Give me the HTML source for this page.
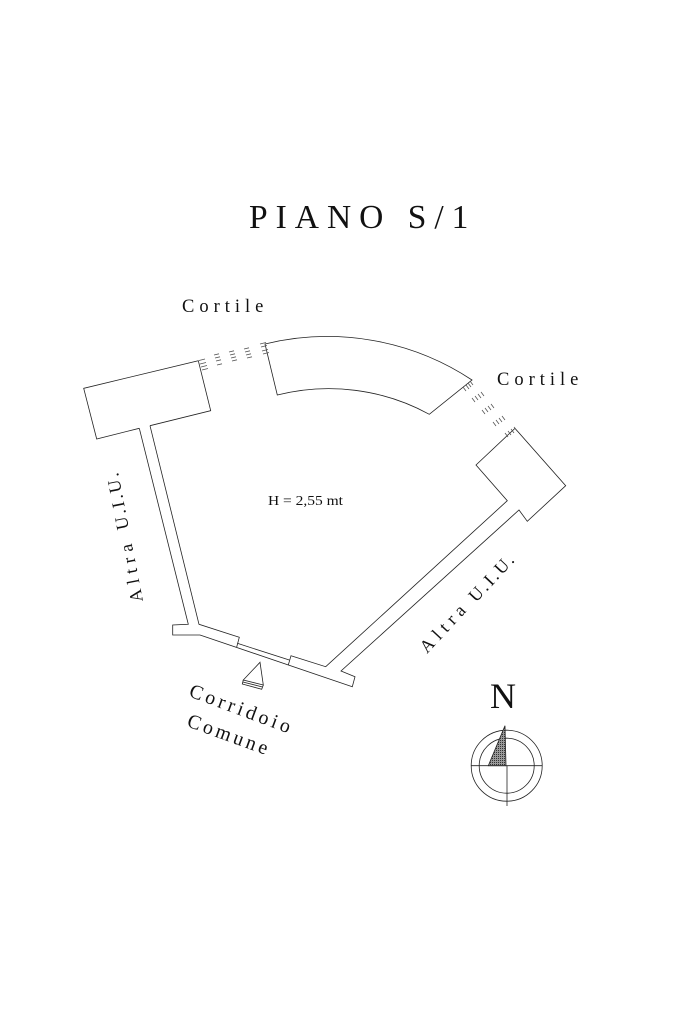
<!DOCTYPE html>
<html>
<head>
<meta charset="utf-8">
<style>
html,body{margin:0;padding:0;background:#fff;width:683px;height:1025px;overflow:hidden}
svg{display:block}
text{font-family:"Liberation Serif",serif;fill:#111}
</style>
</head>
<body>
<svg width="683" height="1025" viewBox="0 0 683 1025" xmlns="http://www.w3.org/2000/svg">
<defs>
<pattern id="h" width="2" height="2" patternUnits="userSpaceOnUse"><rect width="2" height="2" fill="#999"/><rect width="1" height="1" fill="#333"/></pattern>
</defs>
<rect width="683" height="1025" fill="#fff"/>
<text x="249" y="228" font-size="33.5" letter-spacing="8">PIANO S/1</text>
<text x="182" y="312" font-size="18.5" letter-spacing="5">Cortile</text>
<text x="497" y="385" font-size="18.5" letter-spacing="5">Cortile</text>
<text x="268" y="505" font-size="14" textLength="75" lengthAdjust="spacingAndGlyphs">H = 2,55 mt</text>
<text transform="translate(143,601) rotate(-101)" font-size="18" letter-spacing="5.5">Altra</text>
<text transform="translate(129,528.5) rotate(-101)" font-size="18" letter-spacing="2.4">U.I.U.</text>
<text transform="translate(427,654) rotate(-47)" font-size="18" letter-spacing="5.3">Altra</text>
<text transform="translate(476,603) rotate(-47)" font-size="18" letter-spacing="2.4">U.I.U.</text>
<text transform="translate(188,696) rotate(20.5)" font-size="20" letter-spacing="3.6">Corridoio</text>
<text transform="translate(186,726) rotate(20)" font-size="20" letter-spacing="3.3">Comune</text>
<text x="490" y="708" font-size="36">N</text>

<g fill="none" stroke="#222" stroke-width="0.8">
<polyline points="139.3,428.3 96.7,439 83.7,388.3 198.3,360.7 210.7,410.7 150,425.7"/>
<polyline points="139.3,428.3 188.3,624.3 172.7,625 172.7,635 200,635 352.3,686.7 355,676.7 341,671 519,510 527.3,521.3 565.7,485.7 515,428.3 476,465 507.3,500.7 325.7,666.7 291,655.7 288.3,665"/>
<polyline points="150,425.7 199,624.3 239.3,637.3 236.7,647"/>
<line x1="237.3" y1="643.3" x2="289.3" y2="660"/>
<path d="M265,344 A262,262 0 0 1 472,380 L429.3,414.3 A210,210 0 0 0 277.3,395 Z"/>
<g stroke="#555" stroke-width="0.8">
<path d="M199,360.5l6,-1.5M200,364l6,-1.5M201,367l6,-1.5M202,370l6,-1.5"/>
<path d="M214,355l5,-1.2M215,358l5,-1.2M216,361l5,-1.2M217,365l5,-1.2"/>
<path d="M229,352l5,-1.2M230,355l5,-1.2M231,358l5,-1.2M232,361l5,-1.2"/>
<path d="M244,349l5,-1.2M245,352l5,-1.2M246,355l5,-1.2M247,358l5,-1.2"/>
<path d="M260,344l6,-1.5M261,347l6,-1.5M262,351l6,-1.5M263,354l6,-1.5"/>
<path d="M463,387l3,4M466,385l3,4M468,383l3,4M470,381l3,4"/>
<path d="M472,398l3,4M475,396l3,4M478,394l3,4M481,392l3,4"/>
<path d="M482,410l3,4M485,408l3,4M488,406l3,4M491,404l3,4"/>
<path d="M493,422l3,4M496,420l3,4M499,418l3,4M502,416l3,4"/>
<path d="M505,433l3,4M508,431l3,4M511,429l3,4M514,427l3,4"/>
</g>
<path d="M260,662.3 L243.3,680 L263.3,685 Z"/>
<path d="M243.3,680 L242.3,684 L261.7,689.3 L263.3,685 M242.8,682 L262.5,687"/>
<circle cx="506.7" cy="765.7" r="35.5"/>
<circle cx="506.7" cy="765.7" r="27.5"/>
<line x1="471" y1="765.7" x2="542" y2="765.7"/>
<line x1="507" y1="765.7" x2="507" y2="806"/>
<path d="M505,725.7 L488.3,765.7 L506,765.7 Z" fill="url(#h)"/>
</g>
</svg>
</body>
</html>
